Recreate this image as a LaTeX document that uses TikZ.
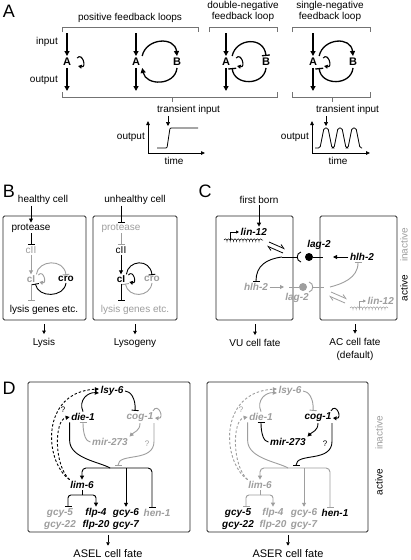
\documentclass[tikz,border=0pt]{standalone}
\usepackage{fontspec}
\setmainfont{Liberation Sans}
\usetikzlibrary{arrows.meta,decorations.pathmorphing}
\definecolor{offgray}{gray}{0.62}
\definecolor{brkgray}{gray}{0.45}
\tikzset{
  lbl/.style={font=\fontsize{10}{11}\selectfont, inner sep=1pt},
  gene/.style={font=\fontsize{10}{11}\selectfont\bfseries\itshape, inner sep=1.5pt},
  motif/.style={font=\fontsize{11}{11}\selectfont\bfseries, inner sep=2pt},
  panel/.style={font=\fontsize{18}{18}\selectfont, inner sep=0pt},
  fate/.style={font=\fontsize{11}{12}\selectfont, inner sep=1pt},
  greyed/.style={color=offgray},
  arr/.style={line width=0.9pt, -{Triangle[length=4pt,width=4pt]}},
  inh/.style={line width=0.9pt, -{Bar[width=7pt]}},
  bigarr/.style={line width=1.3pt, -{Triangle[length=5pt,width=5pt]}},
  biginh/.style={line width=1.3pt, -{Bar[width=8pt]}},
  selfloop/.style={line width=1.1pt, -{Triangle[length=3.5pt,width=4pt]}},
  fatearr/.style={line width=0.8pt, -{Triangle[length=3.5pt,width=3.5pt]}, shorten >=3pt},
  harp/.style={line width=0.8pt, -{Straight Barb[harpoon,length=4pt,width=5pt]}},
  cellbox/.style={draw=black!85, line width=0.8pt, rounded corners=1.5pt},
  brk/.style={draw=brkgray, line width=0.7pt},
  axisline/.style={line width=0.8pt, -{Triangle[length=4pt,width=3.5pt]}},
  mrna/.style={line width=0.5pt, decorate, decoration={coil, aspect=0.5, segment length=3.2pt, amplitude=1.2pt}},
  dashy/.style={dash pattern=on 2.5pt off 2pt}
}
\begin{document}
\begin{tikzpicture}[x=1pt, y=-1pt]
\fill[white] (0,0) rectangle (410,560);
\useasboundingbox (0,0) rectangle (410,560);

% A: feedback motifs
\node[panel] (pa) at (9,11) {A};
\node[lbl] (tpos) at (130,18) {positive feedback loops};
\node[lbl, align=center] (tdn) at (243,11.5) {double-negative\\feedback loop};
\node[lbl, align=center] (tsn) at (330,11.5) {single-negative\\feedback loop};
\draw[brk] (62,32) -- (62,27) -- (198,27) -- (198,32);
\draw[brk] (209,32) -- (209,27) -- (277,27) -- (277,32);
\draw[brk] (292,32) -- (292,27) -- (370,27) -- (370,32);

\node[motif] (a1) at (67,62) {A};
\coordinate (in1) at (67,33);
\coordinate (out1) at (67,91);
\draw[bigarr] (in1) -- (a1);
\draw[bigarr] (a1) -- (out1);
\draw[selfloop] ([shift={(4,-4)}]a1.east) .. controls +(5,-6) and +(9,2) .. ([shift={(5,4)}]a1.east);
\node[lbl, anchor=east] (input) at (59,42) {input};
\node[lbl, anchor=east] (output) at (59,80) {output};

\node[motif] (a2) at (136,62) {A};
\node[motif] (b2) at (177,62) {B};
\coordinate (in2) at (136,33);
\coordinate (out2) at (136,91);
\draw[bigarr] (in2) -- (a2);
\draw[bigarr] (a2) -- (out2);
\draw[bigarr] (a2.north east) .. controls (146,38) and (175,36) .. (b2.north);
\draw[bigarr] (b2.south) .. controls (175,86) and (146,86) .. (a2.south east);

\node[motif] (a3) at (226,62) {A};
\node[motif] (b3) at (266,62) {B};
\coordinate (in3) at (226,33);
\coordinate (out3) at (226,91);
\draw[bigarr] (in3) -- (a3);
\draw[bigarr] (a3) -- (out3);
\draw[selfloop] ([shift={(4,-4)}]a3.east) .. controls +(5,-6) and +(9,2) .. ([shift={(5,4)}]a3.east);
\draw[biginh] (a3.north east) .. controls (236,38) and (264,36) .. (b3.north);
\draw[biginh] (b3.south) .. controls (264,86) and (234,86) .. (a3.south east);

\node[motif] (a4) at (313,62) {A};
\node[motif] (b4) at (353,62) {B};
\coordinate (in4) at (313,33);
\coordinate (out4) at (313,91);
\draw[bigarr] (in4) -- (a4);
\draw[bigarr] (a4) -- (out4);
\draw[selfloop] ([shift={(4,-4)}]a4.east) .. controls +(5,-6) and +(9,2) .. ([shift={(5,4)}]a4.east);
\draw[bigarr] (a4.north east) .. controls (323,38) and (351,36) .. (b4.north);
\draw[biginh] (b4.south) .. controls (351,86) and (321,86) .. (a4.south east);

\draw[brk] (62,92) -- (62,97) -- (277,97) -- (277,92);
\draw[brk] (172,97) -- (172,102);
\draw[brk] (292,92) -- (292,97) -- (370,97) -- (370,92);
\draw[brk] (332,97) -- (332,102);

% transient input, step response
\node[lbl, anchor=west] (tr1) at (156,110) {transient input};
\coordinate (tip1) at (168,126);
\draw[arr, line width=0.7pt] (tr1.south -| tip1) -- (tip1);
\coordinate (o1) at (148,153);
\draw[axisline] (o1) -- (148,121);
\draw[axisline] (o1) -- (205,153);
\node[lbl, anchor=east] (yl1) at (146,137) {output};
\node[lbl] (xl1) at (174,161) {time};
\draw[line width=0.8pt, rounded corners=1pt] (157,148) -- (167,148) -- (170,128) -- (198,128);

% transient input, pulses
\node[lbl, anchor=west] (tr2) at (315,110) {transient input};
\coordinate (tip2) at (326,126);
\draw[arr, line width=0.7pt] (tr2.south -| tip2) -- (tip2);
\coordinate (o2) at (312,153);
\draw[axisline] (o2) -- (312,121);
\draw[axisline] (o2) -- (370,153);
\node[lbl, anchor=east] (yl2) at (310,137) {output};
\node[lbl] (xl2) at (338,161) {time};
\draw[line width=0.8pt, rounded corners=1.5pt] (315,148) -- (320,148) -- (324,128) -- (328,128) -- (332,148) -- (334,148)
  -- (338,128) -- (342,128) -- (346,148) -- (348,148) -- (352,128) -- (356,128) -- (360,148) -- (362,148);

% B: lambda phage
\node[panel] (pb) at (9,191) {B};
\node[lbl] (healthy) at (43,200) {healthy cell};
\draw[cellbox] (3,216) rectangle (86,320);
\node[lbl] (prot1) at (31,228) {protease};
\node[lbl, greyed] (cii1) at (31,250) {cII};
\node[lbl, greyed, font=\fontsize{10}{11}\selectfont\bfseries] (ci1) at (31,279) {cI};
\node[lbl, font=\fontsize{10}{11}\selectfont\bfseries] (cro1) at (66,279) {cro};
\node[lbl] (lys1) at (44,310) {lysis genes etc.};
\draw[arr] (prot1 |- healthy.south) -- (prot1);
\draw[inh] (prot1) -- (cii1);
\draw[arr, greyed] (cii1) -- (ci1);
\draw[selfloop, line width=0.9pt, greyed] ([shift={(2,-4)}]ci1.east) .. controls +(5,-6) and +(8,2) .. ([shift={(3,3)}]ci1.east);
\draw[inh, greyed] (ci1.north east) .. controls (38,260) and (64,258) .. (cro1.north);
\draw[inh] (cro1.south) .. controls (64,298) and (38,298) .. ([xshift=-1pt]ci1.south east);
\draw[inh, greyed] (ci1.south) -- ([yshift=3pt]ci1.south |- lys1.north);
\coordinate (bx1) at (44,324);
\node[lbl] (lysis) at (44,343) {Lysis};
\draw[fatearr] (bx1) -- (lysis);

\node[lbl] (unhealthy) at (135,200) {unhealthy cell};
\draw[cellbox] (93,216) rectangle (177,320);
\node[lbl, greyed] (prot2) at (121,228) {protease};
\node[lbl] (cii2) at (121,250) {cII};
\node[lbl, font=\fontsize{10}{11}\selectfont\bfseries] (ci2) at (121,279) {cI};
\node[lbl, greyed, font=\fontsize{10}{11}\selectfont\bfseries] (cro2) at (152,279) {cro};
\node[lbl, greyed] (lys2) at (135,310) {lysis genes etc.};
\draw[inh] (prot2 |- unhealthy.south) -- (prot2);
\draw[inh, greyed] (prot2) -- (cii2);
\draw[arr] (cii2) -- (ci2);
\draw[selfloop, line width=0.9pt] ([shift={(2,-4)}]ci2.east) .. controls +(5,-6) and +(8,2) .. ([shift={(3,3)}]ci2.east);
\draw[inh] (ci2.north east) .. controls (128,260) and (150,258) .. (cro2.north);
\draw[inh, greyed] (cro2.south) .. controls (150,298) and (128,298) .. ([xshift=-1pt]ci2.south east);
\draw[inh] (ci2.south) -- ([yshift=3pt]ci2.south |- lys2.north);
\coordinate (bx2) at (135,324);
\node[lbl] (lysogeny) at (135,343) {Lysogeny};
\draw[fatearr] (bx2) -- (lysogeny);

% C: VU/AC decision
\node[panel] (pc) at (205,191) {C};
\node[lbl] (born) at (259,200) {first born};
\draw[cellbox] (216,216) rectangle (293,320);
\draw[cellbox] (320,216) rectangle (397,320);
\node[gene, anchor=west] (lin1) at (239,232) {lin-12};
\coordinate (prom1) at (230,240);
\draw[line width=0.7pt, -{Triangle[length=3pt,width=3pt]}] (prom1) |- (lin1.west);
\draw[mrna] (224,240) -- (263,240);
\draw[arr] (born.south) -- (born.south |- lin1.north);
\coordinate (h1a) at (269,242);
\coordinate (h1b) at (285,249);
\coordinate (h2a) at (283,253);
\coordinate (h2b) at (267,246);
\draw[harp] (h1a) -- (h1b);
\draw[harp] (h2a) -- (h2b);
\coordinate (rec1) at (282,257);
\draw[line width=0.9pt] (rec1) -- (297,257);
\draw[line width=0.9pt] (301,252) .. controls (296,253) and (296,261) .. (301,262);
\node[circle, fill, inner sep=0pt, minimum size=8pt] (dot1) at (309,257) {};
\coordinate (lig1) at (323,257);
\draw[line width=0.9pt] (dot1) -- (lig1);
\node[gene] (lag1) at (319,245) {lag-2};
\node[gene] (hlh1) at (362,257) {hlh-2};
\coordinate (hlhtip) at (333,257);
\draw[arr] (hlh1) -- (hlhtip);
\node[gene, greyed] (hlh2) at (256,287) {hlh-2};
\draw[inh] (rec1) .. controls (266,259) and (256,266) .. (hlh2.north);
\coordinate (hlh2tip) at (284,287);
\draw[arr, greyed] (hlh2) -- (hlh2tip);
\coordinate (lig2) at (289,287);
\node[circle, fill=offgray, inner sep=0pt, minimum size=8pt] (dot2) at (303,287) {};
\draw[greyed, line width=0.9pt] (lig2) -- (dot2);
\draw[greyed, line width=0.9pt] (309,282) .. controls (314,283) and (314,291) .. (309,292);
\coordinate (rec2) at (324,287);
\draw[greyed, line width=0.9pt] (313,287) -- (rec2);
\node[gene, greyed] (lag2) at (297,298) {lag-2};
\draw[inh, greyed] ([xshift=6pt]rec2) .. controls (342,284) and (358,278) .. ([xshift=-4pt]hlh1.south);
\coordinate (h3a) at (331,292);
\coordinate (h3b) at (347,299);
\coordinate (h4a) at (345,303);
\coordinate (h4b) at (329,296);
\draw[harp, greyed] (h3a) -- (h3b);
\draw[harp, greyed] (h4a) -- (h4b);
\node[gene, greyed, anchor=west] (lin2) at (366,301) {lin-12};
\coordinate (prom2) at (359,308);
\draw[greyed, line width=0.7pt, -{Triangle[length=3pt,width=3pt]}] (prom2) |- (lin2.west);
\draw[mrna, greyed] (350,308) -- (388,308);
\node[lbl, greyed, rotate=90] (inact1) at (404,245) {inactive};
\node[lbl, rotate=90] (act1) at (404,288) {active};
\coordinate (bvu) at (255,324);
\node[lbl] (vufate) at (255,343) {VU cell fate};
\draw[fatearr] (bvu) -- (vufate);
\coordinate (bac) at (355,324);
\node[lbl, align=center, font=\fontsize{10}{13}\selectfont] (acfate) at (355,349) {AC cell fate\\(default)};
\draw[fatearr] (bac) -- (acfate);

% D: ASEL / ASER
\node[panel] (pd) at (9,388) {D};
\draw[cellbox] (28,382) rectangle (190,532);
\draw[cellbox] (207,382) rectangle (368,532);
\node[lbl, greyed, rotate=90] (inact2) at (379,433) {inactive};
\node[lbl, rotate=90] (act2) at (379,482) {active};

% ASEL
\node[gene] (lsyL) at (112,391) {lsy-6};
\node[gene] (dieL) at (83,417) {die-1};
\node[gene, greyed] (cogL) at (140,417) {cog-1};
\node[gene, greyed] (mirL) at (110,442) {mir-273};
\node[gene] (limL) at (82,485) {lim-6};
\node[gene, greyed] (gcy5L) at (60,513) {gcy-5};
\node[gene, greyed] (gcy22L) at (60,525) {gcy-22};
\node[gene] (flp4L) at (96,513) {flp-4};
\node[gene] (flp20L) at (96,525) {flp-20};
\node[gene] (gcy6L) at (126,513) {gcy-6};
\node[gene] (gcy7L) at (126,525) {gcy-7};
\node[gene, greyed] (henL) at (157,513) {hen-1};
\draw[arr] (dieL.north) .. controls (78,400) and (88,392) .. ([yshift=-2pt]lsyL.west);
\draw[inh] (lsyL.east) .. controls (130,391) and (136,398) .. ([xshift=-5pt]cogL.north);
\draw[arr, greyed] (cogL.south) .. controls (140,431) and (134,432) .. (mirL.north east);
\draw[inh, greyed] (mirL.west) .. controls (86,442) and (83,434) .. (dieL.south);
\draw[selfloop, line width=0.9pt, greyed] ([xshift=-2pt]cogL.north east) .. controls +(5,-9) and +(10,1) .. ([yshift=-1pt]cogL.east);
\draw[arr, dashy] ([xshift=1pt]limL.north west) .. controls (44,462) and (40,392) .. ([yshift=2pt]lsyL.west);
\draw[arr, dashy] ([xshift=1pt]limL.north west) .. controls (54,466) and (54,420) .. (dieL.west);
\node[lbl, font=\fontsize{8}{8}\selectfont] (q1L) at (63,410) {?};
\coordinate (jL) at (110,468);
\draw[line width=0.9pt] (dieL.south west) -- ++(0,18) .. controls +(0,18) and (100,462) .. (jL);
\draw[inh, greyed] ([xshift=-1pt]cogL.south east) -- ++(0,18) .. controls +(0,22) and (118,452) .. (118,466);
\node[lbl, greyed, font=\fontsize{8}{8}\selectfont] (q2L) at (147,444) {?};
\draw[arr, rounded corners=4pt] (jL) -| (limL);
\draw[arr] (jL -| gcy6L) -- (gcy6L);
\draw[inh, rounded corners=4pt] (jL) -| ([xshift=-5pt]henL.north);
\coordinate (lbL) at (82,495);
\draw[line width=0.9pt] (limL) -- (lbL);
\draw[inh, rounded corners=3pt] (lbL) -| ([xshift=8pt]gcy5L.north);
\draw[arr, rounded corners=3pt] (lbL) -| (flp4L.north);
\coordinate (bxL) at (108,535);
\node[fate] (aselfate) at (108,554) {ASEL cell fate};
\draw[fatearr, line width=0.9pt] (bxL) -- (aselfate);

% ASER
\node[gene, greyed] (lsyR) at (290,391) {lsy-6};
\node[gene, greyed] (dieR) at (261,417) {die-1};
\node[gene] (cogR) at (318,417) {cog-1};
\node[gene] (mirR) at (288,442) {mir-273};
\node[gene, greyed] (limR) at (260,485) {lim-6};
\node[gene] (gcy5R) at (238,513) {gcy-5};
\node[gene] (gcy22R) at (238,525) {gcy-22};
\node[gene, greyed] (flp4R) at (273,513) {flp-4};
\node[gene, greyed] (flp20R) at (273,525) {flp-20};
\node[gene, greyed] (gcy6R) at (304,513) {gcy-6};
\node[gene, greyed] (gcy7R) at (304,525) {gcy-7};
\node[gene] (henR) at (335,513) {hen-1};
\draw[arr, greyed] (dieR.north) .. controls (256,400) and (266,392) .. ([yshift=-2pt]lsyR.west);
\draw[inh, greyed] (lsyR.east) .. controls (308,391) and (314,398) .. ([xshift=-5pt]cogR.north);
\draw[arr] (cogR.south) .. controls (318,431) and (312,432) .. (mirR.north east);
\draw[inh] (mirR.west) .. controls (264,442) and (261,434) .. (dieR.south);
\draw[selfloop, line width=0.9pt] ([xshift=-2pt]cogR.north east) .. controls +(5,-9) and +(10,1) .. ([yshift=-1pt]cogR.east);
\draw[arr, dashy, greyed] ([xshift=1pt]limR.north west) .. controls (222,462) and (218,392) .. ([yshift=2pt]lsyR.west);
\draw[arr, dashy, greyed] ([xshift=1pt]limR.north west) .. controls (232,466) and (232,420) .. (dieR.west);
\node[lbl, greyed, font=\fontsize{8}{8}\selectfont] (q1R) at (241,410) {?};
\coordinate (jR) at (288,468);
\draw[greyed, line width=0.9pt] (dieR.south west) -- ++(0,18) .. controls +(0,18) and (278,462) .. (jR);
\draw[inh] ([xshift=-1pt]cogR.south east) -- ++(0,18) .. controls +(0,22) and (296,452) .. (296,466);
\node[lbl, font=\fontsize{8}{8}\selectfont] (q2R) at (325,444) {?};
\draw[arr, greyed, rounded corners=4pt] (jR) -| (limR);
\draw[arr, greyed] (jR -| gcy6R) -- (gcy6R);
\draw[inh, greyed, rounded corners=4pt] (jR) -| ([xshift=-5pt]henR.north);
\coordinate (lbR) at (260,495);
\draw[greyed, line width=0.9pt] (limR) -- (lbR);
\draw[inh, greyed, rounded corners=3pt] (lbR) -| ([xshift=8pt]gcy5R.north);
\draw[arr, greyed, rounded corners=3pt] (lbR) -| (flp4R.north);
\coordinate (bxR) at (288,535);
\node[fate] (aserfate) at (288,554) {ASER cell fate};
\draw[fatearr, line width=0.9pt] (bxR) -- (aserfate);
\end{tikzpicture}
\end{document}
